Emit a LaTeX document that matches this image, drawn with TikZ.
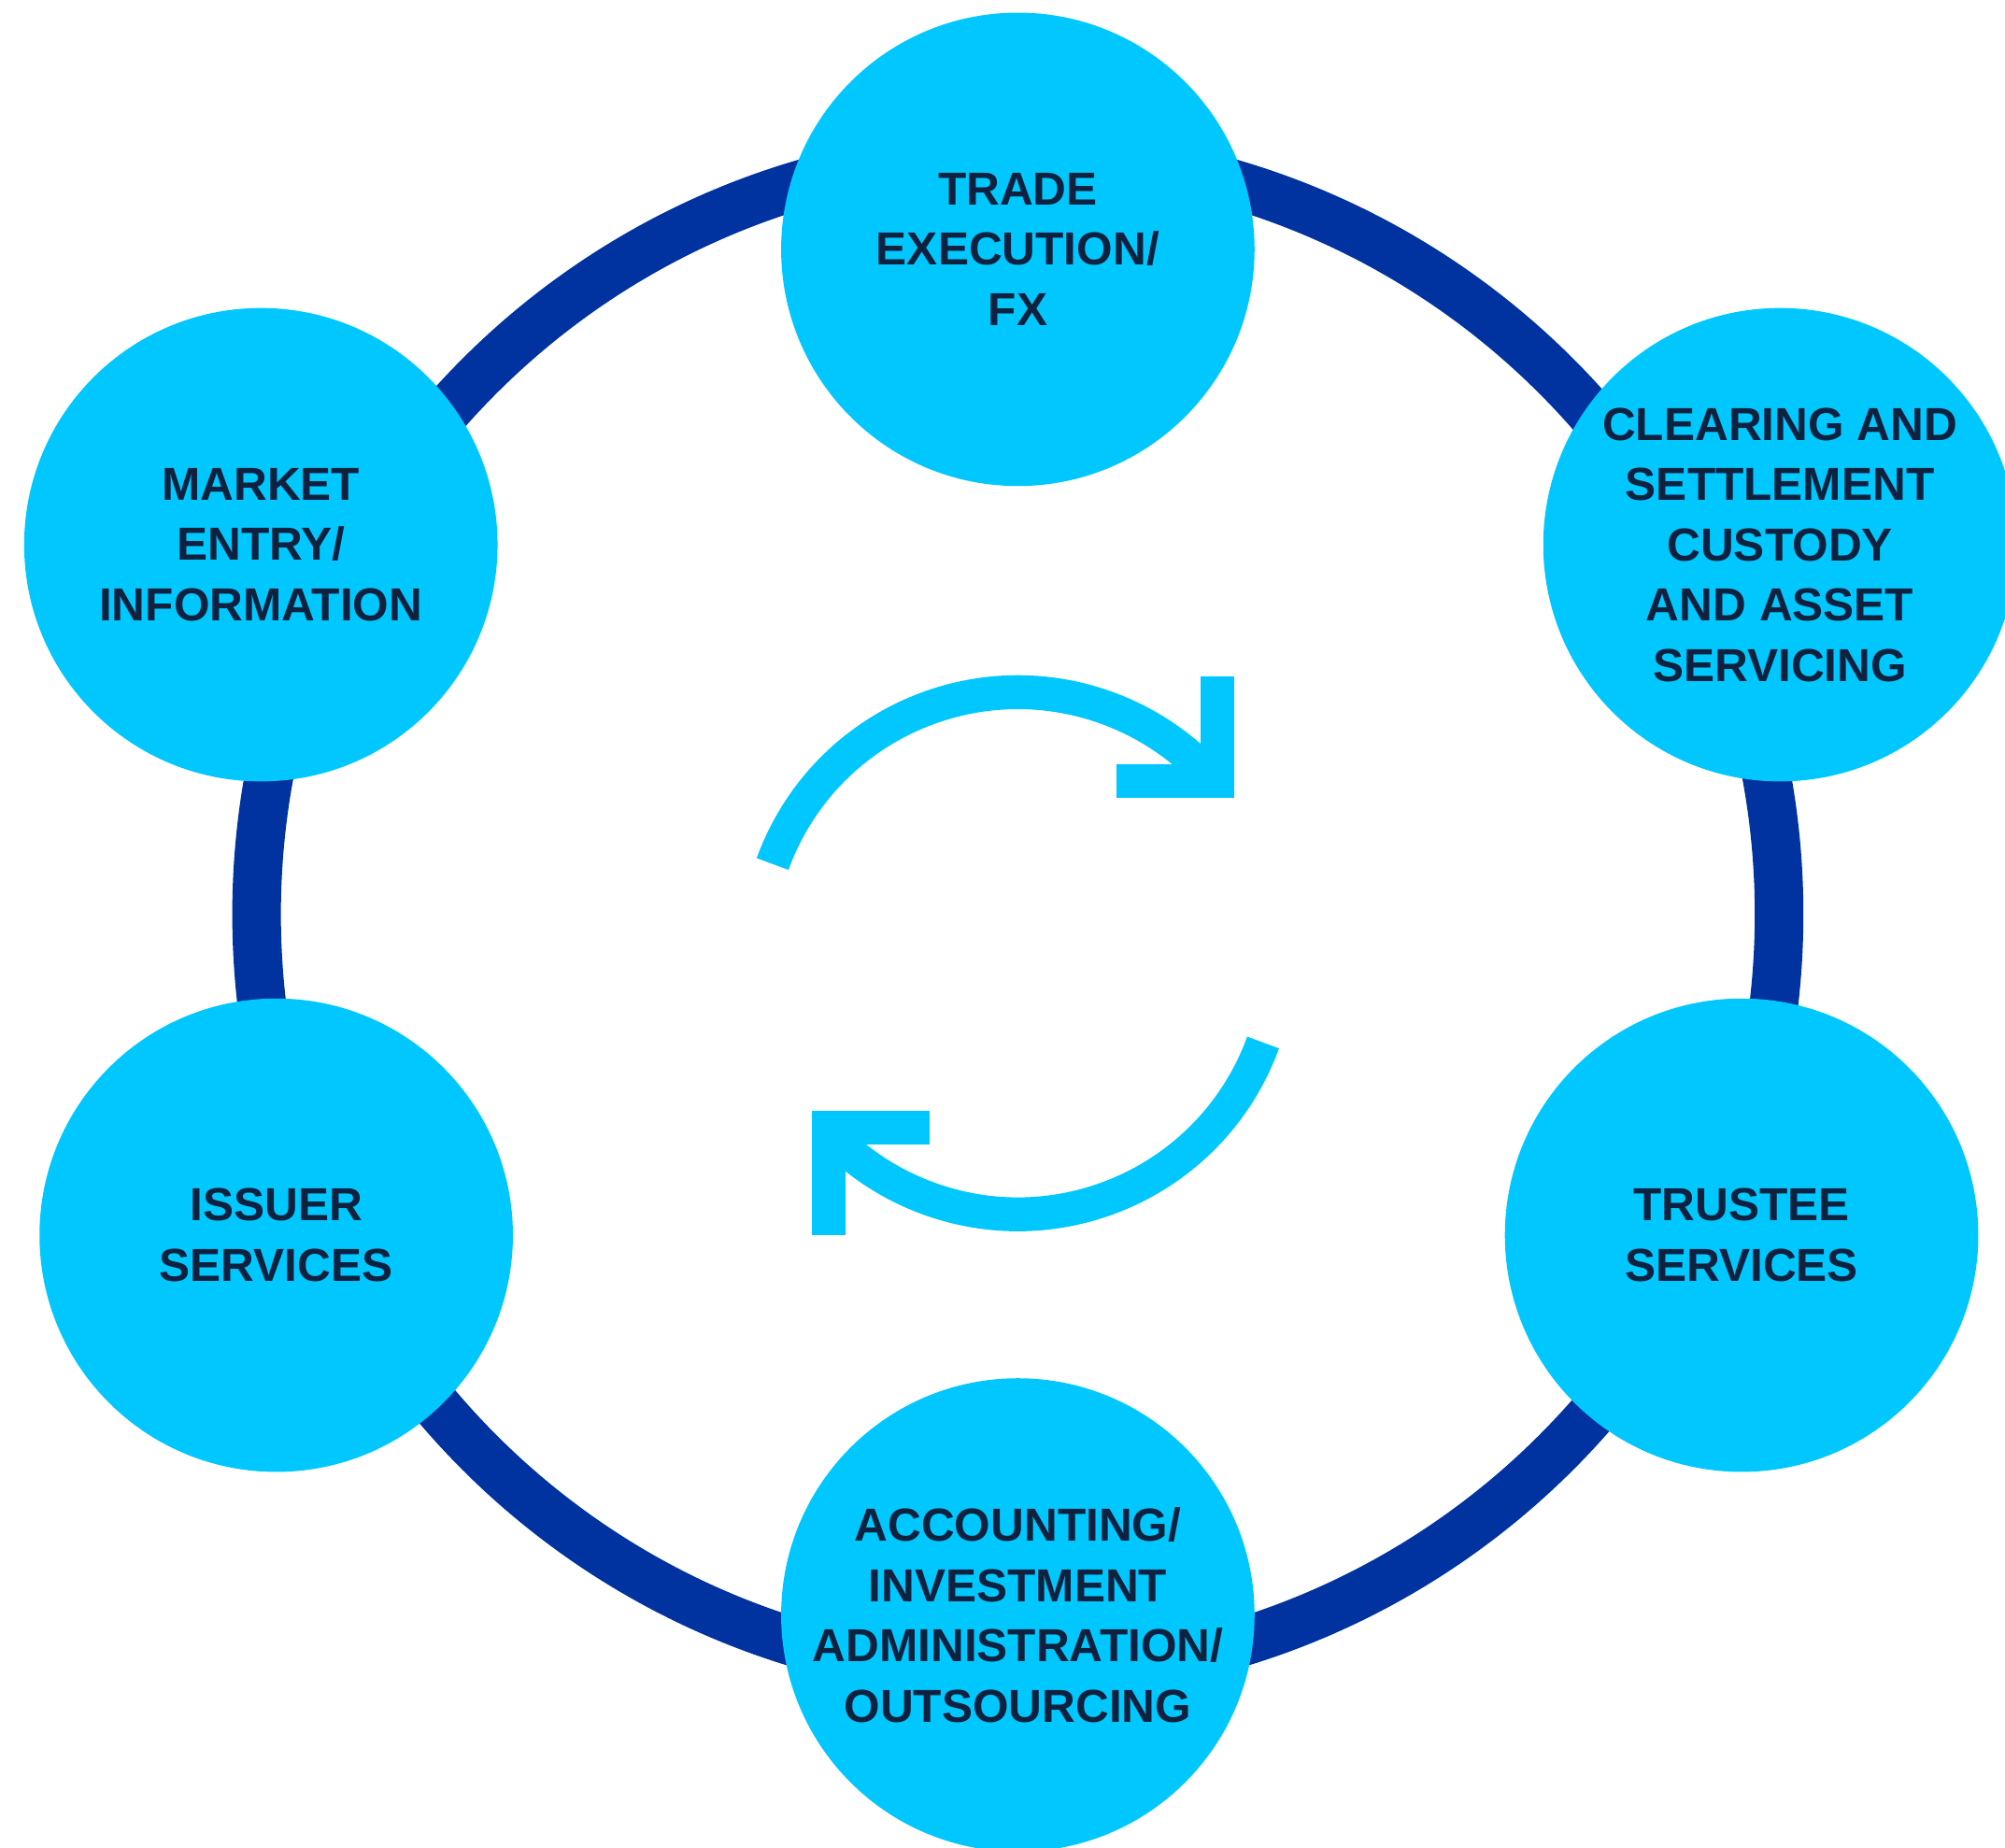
\documentclass[tikz,border=0pt]{standalone}
\usepackage{fontspec}
\setmainfont{Liberation Sans}
\usetikzlibrary{arrows,shapes}
\definecolor{ringblue}{RGB}{0,51,160}
\definecolor{skyblue}{RGB}{0,200,255}
\definecolor{inkblue}{RGB}{14,34,64}
\tikzstyle{service}=[circle,fill=skyblue,minimum size=3.7cm,inner sep=0pt,align=center,text=inkblue,font=\fontsize{10.3}{13.4}\selectfont\bfseries]
\tikzstyle{ring}=[draw=ringblue,line width=0.38cm]
\tikzstyle{cycle}=[draw=skyblue,line width=0.265cm,line join=miter]

\begin{document}
\begin{tikzpicture}[x=0.01cm,y=-0.01cm]
    \clip (0,0) rectangle (1568,1445);
    % The ring goes behind the service circles
    \coordinate (hub) at (796,715);
    \draw[ring] (hub) circle (5.95cm);

    % Then the six service circles
    \foreach \pos/\name/\txt in {{(796,195)/trade/{TRADE\\EXECUTION/\\FX}},
        {(1392,426)/clearing/{CLEARING AND\\SETTLEMENT\\CUSTODY\\AND ASSET\\SERVICING}},
        {(1362,966)/trustee/{TRUSTEE\\SERVICES}},
        {(796,1263)/accounting/{ACCOUNTING/\\INVESTMENT\\ADMINISTRATION/\\OUTSOURCING}},
        {(216,966)/issuer/{ISSUER\\SERVICES}},
        {(204,426)/market/{MARKET\\ENTRY/\\INFORMATION}}}
        \node[service] (\name) at \pos {\txt};

    % Cycle arrows in the middle
    \coordinate (cen) at (796,745.5);
    \draw[cycle] (cen) ++(160:2.04cm) arc[start angle=160, end angle=41, radius=2.04cm];
    \draw[cycle] (952,529) -- (952,611) -- (873,611);
    \draw[cycle] (cen) ++(-20:2.04cm) arc[start angle=-20, end angle=-136, radius=2.04cm];
    \draw[cycle] (648,966) -- (648,882) -- (727,882);
\end{tikzpicture}
\end{document}
